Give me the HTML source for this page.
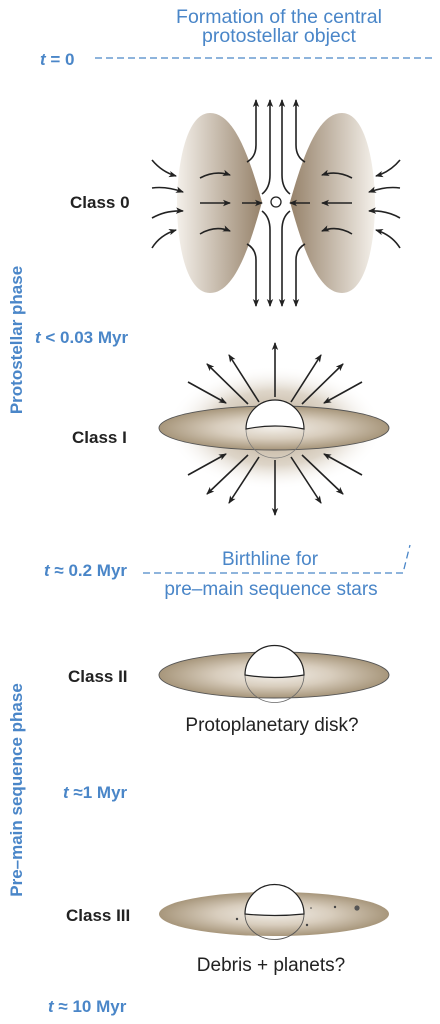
<!DOCTYPE html>
<html><head><meta charset="utf-8"><style>
html,body{margin:0;padding:0;background:#fff;}
svg{display:block;}
text{font-family:"Liberation Sans",sans-serif;}
.blue{fill:#4a86c8;}
.lbl{font-weight:bold;font-size:17px;fill:#222;}
.tb{font-weight:bold;font-size:17px;fill:#4a86c8;}
.ar{stroke:#222;stroke-width:1.6;fill:none;marker-end:url(#ah);}
</style></head><body>
<svg width="440" height="1024" viewBox="0 0 440 1024">
<defs>
<marker id="ah" markerWidth="8" markerHeight="8" refX="7" refY="4" orient="auto" markerUnits="userSpaceOnUse">
<path d="M0,0.8 L8,4 L0,7.2 L2,4 Z" fill="#222"/></marker>
<linearGradient id="lobeL" x1="0" x2="1" y1="0" y2="0"><stop offset="0" stop-color="#f4f0ea"/><stop offset="1" stop-color="#96826a"/></linearGradient>
<linearGradient id="lobeR" x1="1" x2="0" y1="0" y2="0"><stop offset="0" stop-color="#f4f0ea"/><stop offset="1" stop-color="#96826a"/></linearGradient>
<radialGradient id="disk" cx="0.5" cy="0.5" r="0.5"><stop offset="0" stop-color="#f2eee8"/><stop offset="0.5" stop-color="#d8cdbd"/><stop offset="1" stop-color="#a7967b"/></radialGradient>
<radialGradient id="glow" cx="0.5" cy="0.5" r="0.5"><stop offset="0" stop-color="#a58f70" stop-opacity="0.9"/><stop offset="0.6" stop-color="#c7b9a4" stop-opacity="0.6"/><stop offset="1" stop-color="#fff" stop-opacity="0"/></radialGradient>
</defs>

<text class="blue" x="279" y="23" font-size="19.5" text-anchor="middle">Formation of the central</text>
<text class="blue" x="279" y="42" font-size="19.5" text-anchor="middle">protostellar object</text>
<text class="tb" x="40" y="65" font-size="18"><tspan font-style="italic">t</tspan> = 0</text>
<line x1="95" y1="58" x2="434" y2="58" stroke="#4a86c8" stroke-width="1.3" stroke-dasharray="7,4"/>

<g>
<path d="M262,202 C250,160 235,113 210,113 C185,113 177,170 177,203 C177,240 185,293 210,293 C235,293 250,245 262,202 Z" fill="url(#lobeL)"/>
<path d="M290,202 C302,160 317,113 342,113 C367,113 375,170 375,203 C375,240 367,293 342,293 C317,293 302,245 290,202 Z" fill="url(#lobeR)"/>
<circle cx="276" cy="202" r="5" fill="#fff" stroke="#222" stroke-width="1.3"/>
<path class="ar" d="M247,162 Q256,157 256,145 L256,100"/>
<path class="ar" d="M262,194 Q270,188 270,175 L270,100"/>
<path class="ar" d="M290,194 Q282,188 282,175 L282,100"/>
<path class="ar" d="M305,162 Q296,157 296,145 L296,100"/>
<path class="ar" d="M247,244 Q256,249 256,260 L256,306"/>
<path class="ar" d="M262,211 Q270,217 270,230 L270,306"/>
<path class="ar" d="M290,211 Q282,217 282,230 L282,306"/>
<path class="ar" d="M305,244 Q296,249 296,260 L296,306"/>
<path class="ar" d="M152,160 Q162,172 176,176"/>
<path class="ar" d="M152,188 Q166,186 183,192"/>
<path class="ar" d="M152,218 Q166,210 183,211"/>
<path class="ar" d="M152,248 Q160,235 176,230"/>
<path class="ar" d="M200,178 Q215,170 230,175"/>
<path class="ar" d="M200,203 L230,203"/>
<path class="ar" d="M200,234 Q215,225 230,231"/>
<path class="ar" d="M242,203 L262,203"/>
<path class="ar" d="M400,160 Q390,172 376,176"/>
<path class="ar" d="M400,188 Q386,186 369,192"/>
<path class="ar" d="M400,218 Q386,210 369,211"/>
<path class="ar" d="M400,248 Q392,235 376,230"/>
<path class="ar" d="M352,178 Q337,170 322,175"/>
<path class="ar" d="M352,203 L322,203"/>
<path class="ar" d="M352,234 Q337,225 322,231"/>
<path class="ar" d="M310,203 L290,203"/>
</g>
<text class="lbl" x="70" y="208">Class 0</text>

<text class="tb" transform="translate(22,340) rotate(-90)" text-anchor="middle" font-size="18">Protostellar phase</text>
<text class="tb" x="35" y="343"><tspan font-style="italic">t</tspan> &lt; 0.03 Myr</text>

<g>
<ellipse cx="275" cy="428" rx="108" ry="62" fill="url(#glow)"/>
<ellipse cx="274" cy="428" rx="115" ry="22" fill="url(#disk)" stroke="#555" stroke-width="0.9"/>
<path d="M246,429 A29,29 0 0 0 304,429" fill="none" stroke="#777" stroke-width="0.7"/>
<path d="M246,429 A29,29 0 0 1 304,429 Q275,423 246,429 Z" fill="#fff" stroke="#222" stroke-width="1.2"/>
<path class="ar" d="M275,397 L275,343"/>
<path class="ar" d="M259,402 L229,355"/>
<path class="ar" d="M248,404 L207,364"/>
<path class="ar" d="M291,402 L321,355"/>
<path class="ar" d="M302,404 L343,364"/>
<path class="ar" d="M188,382 L226,403"/>
<path class="ar" d="M362,382 L324,403"/>
<path class="ar" d="M275,460 L275,515"/>
<path class="ar" d="M259,457 L229,503"/>
<path class="ar" d="M248,455 L207,494"/>
<path class="ar" d="M291,457 L321,503"/>
<path class="ar" d="M302,455 L343,494"/>
<path class="ar" d="M188,475 L226,454"/>
<path class="ar" d="M362,475 L324,454"/>
</g>
<text class="lbl" x="72" y="443">Class I</text>

<text class="tb" x="44" y="576"><tspan font-style="italic">t</tspan> ≈ 0.2 Myr</text>
<path d="M143,573 L403,573 L410,545" fill="none" stroke="#4a86c8" stroke-width="1.3" stroke-dasharray="7,4"/>
<text class="blue" x="270" y="565" font-size="19" text-anchor="middle">Birthline for</text>
<text class="blue" x="271" y="595" font-size="19" text-anchor="middle">pre–main sequence stars</text>

<g>
<ellipse cx="274" cy="675" rx="115" ry="23" fill="url(#disk)" stroke="#555" stroke-width="0.9"/>
<path d="M245,675 A29,27 0 0 0 304,675" fill="none" stroke="#666" stroke-width="0.8"/>
<path d="M245,675 A29,29 0 0 1 304,675 Q275,680 245,675 Z" fill="#fff" stroke="#222" stroke-width="1.2"/>
</g>
<text class="lbl" x="68" y="682">Class II</text>
<text x="272" y="731" font-size="19" fill="#222" text-anchor="middle">Protoplanetary disk?</text>

<text class="tb" x="63" y="798"><tspan font-style="italic">t</tspan> ≈1 Myr</text>
<text class="tb" transform="translate(22,790) rotate(-90)" text-anchor="middle" font-size="18">Pre–main sequence phase</text>

<g>
<ellipse cx="274" cy="914" rx="115" ry="22" fill="url(#disk)"/>
<path d="M245,914 A29,25 0 0 0 304,914" fill="none" stroke="#555" stroke-width="0.9"/>
<path d="M245,914 A29,29 0 0 1 304,914 Q275,917 245,914 Z" fill="#fff" stroke="#222" stroke-width="1.2"/>
<circle cx="237" cy="919" r="1.2" fill="#444"/>
<circle cx="311" cy="908" r="0.8" fill="#444"/>
<circle cx="335" cy="907" r="1.2" fill="#444"/>
<circle cx="357" cy="908" r="2.6" fill="#555"/>
<circle cx="307" cy="925" r="1.2" fill="#444"/>
</g>
<text class="lbl" x="66" y="921">Class III</text>
<text x="271" y="971" font-size="19" fill="#222" text-anchor="middle">Debris + planets?</text>
<text class="tb" x="48" y="1012"><tspan font-style="italic">t</tspan> ≈ 10 Myr</text>
</svg>
</body></html>
